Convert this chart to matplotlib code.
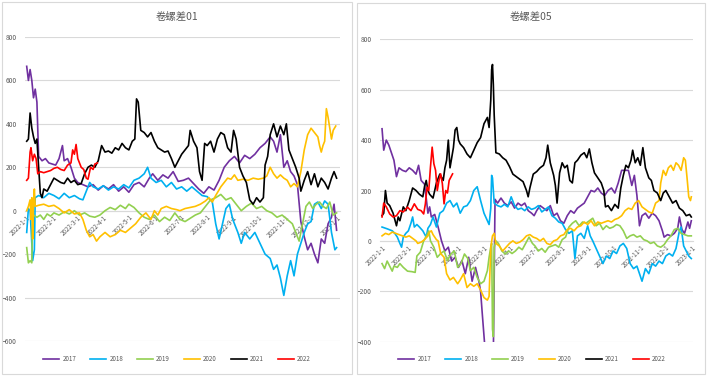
import matplotlib
matplotlib.use("Agg")
import matplotlib.pyplot as plt
from matplotlib.patches import Rectangle

plt.rcParams["font.family"] = ["Noto Sans CJK SC", "DejaVu Sans"]

YEARS = ["2017", "2018", "2019", "2020", "2021", "2022"]
COLORS = ["#7030A0", "#00B0F0", "#92D050", "#FFC000", "#000000", "#FF0000"]
MONTH_DAYS = [0, 31, 59, 90, 120, 151, 181, 212, 243, 273, 304, 334, 365]
MONTH_LABELS = [f"2022-{m}-1" for m in range(1, 13)] + ["2023-1-1"]

# ---- 卷螺差01: (day of year, value) ----
p01 = [(0, 665), (2, 600), (4, 650), (6, 600), (8, 520), (10, 560), (12, 500), (14, 250), (18, 230),
       (22, 240), (26, 220), (30, 215), (34, 210), (38, 240), (42, 300), (44, 230), (48, 240), (52, 200),
       (56, 150), (60, 130), (66, 120), (72, 110), (78, 120), (84, 95), (90, 115), (96, 100), (102, 120),
       (108, 90), (114, 110), (120, 85), (126, 120), (132, 130), (138, 110), (144, 150), (148, 170),
       (154, 140), (160, 165), (166, 150), (172, 180), (178, 135), (184, 140), (190, 150), (196, 125),
       (202, 100), (208, 80), (214, 110), (220, 95), (226, 140), (232, 200), (238, 230), (244, 250),
       (250, 220), (256, 255), (262, 240), (268, 260), (274, 290), (280, 310), (286, 340), (290, 320),
       (294, 270), (298, 350), (302, 200), (306, 230), (310, 180), (314, 160), (318, 120), (322, -50),
       (326, -120), (330, -180), (334, -150), (338, -200), (342, -240), (346, -130), (350, -150),
       (354, -60), (358, -30), (361, 30), (364, -90)]
b01 = [(0, -100), (2, 10), (4, 0), (6, -150), (7, -230), (9, -180), (10, 60), (14, 70), (20, 60), (26, 80),
       (32, 70), (38, 55), (44, 80), (50, 60), (56, 70), (62, 55), (66, 50), (70, 90), (74, 130), (78, 110),
       (84, 100), (90, 115), (96, 95), (102, 110), (108, 100), (114, 120), (120, 105), (126, 140),
       (132, 150), (138, 170), (142, 200), (146, 150), (152, 130), (158, 140), (164, 110), (170, 130),
       (176, 100), (182, 110), (188, 90), (194, 110), (200, 90), (206, 70), (212, 65), (218, 40),
       (222, -60), (226, -130), (230, -60), (234, 10), (238, 30), (242, -40), (248, -100), (252, -150),
       (256, -100), (262, -130), (268, -100), (274, -150), (280, -200), (286, -220), (290, -270),
       (294, -250), (298, -310), (302, -390), (306, -300), (310, -230), (314, -300), (318, -200),
       (322, -150), (326, -100), (330, -60), (334, -50), (338, 30), (342, 40), (346, 10), (350, 45),
       (354, 30), (358, -100), (362, -180), (364, -170)]
g01 = [(0, -170), (2, -240), (4, -230), (6, -240), (7, 0), (8, -20), (12, -30), (16, -20), (20, -40),
       (24, -15), (28, -25), (32, -10), (38, -20), (44, -5), (50, -15), (56, 0), (62, -20), (68, -10),
       (74, -25), (80, -30), (86, -20), (92, 0), (98, 15), (104, 5), (110, 25), (116, 10), (120, 30),
       (126, 15), (132, -10), (138, -30), (144, -40), (150, -20), (156, -50), (162, -30), (168, -45),
       (174, -10), (180, -40), (186, -50), (192, -35), (198, -20), (204, -10), (210, 20), (216, 50),
       (222, 60), (228, 75), (234, 50), (240, 60), (246, 30), (252, 0), (258, 20), (264, 35), (270, 10),
       (276, 20), (282, 0), (288, -10), (294, -30), (300, -20), (306, -40), (312, -60), (316, -100),
       (320, -140), (324, -60), (328, 20), (332, 40), (336, 10), (340, 30), (344, 40), (348, 20),
       (352, 10), (356, 40), (360, -20), (364, -10)]
y01 = [(0, 0), (2, 20), (4, 50), (5, -40), (6, 60), (7, -130), (8, 40), (9, 100), (10, 20), (14, 25),
       (20, 30), (26, 20), (32, 25), (38, 10), (44, -10), (50, 5), (56, -15), (62, -10), (66, -40),
       (70, -90), (74, -120), (78, -110), (82, -140), (86, -120), (92, -100), (98, -120), (104, -110),
       (110, -90), (116, -100), (122, -80), (128, -60), (134, -30), (140, -10), (146, -40), (150, 0),
       (154, -20), (158, 10), (164, 20), (170, 10), (176, 5), (180, 0), (186, 10), (192, 15), (198, 20),
       (204, 30), (210, 45), (214, 60), (218, 40), (222, 70), (228, 110), (232, 130), (236, 150),
       (240, 145), (244, 165), (248, 140), (254, 145), (260, 140), (266, 150), (272, 145), (278, 150),
       (282, 160), (286, 200), (290, 170), (294, 150), (298, 165), (302, 150), (306, 140), (310, 110),
       (314, 125), (318, 110), (322, 180), (326, 280), (330, 350), (334, 380), (338, 360), (342, 340),
       (344, 300), (346, 270), (348, 300), (350, 320), (352, 470), (354, 430), (356, 380), (358, 330),
       (360, 370), (363, 390)]
k01 = [(0, 320), (2, 330), (4, 450), (6, 380), (8, 340), (10, 310), (12, 330), (14, 200), (16, 80),
       (18, 60), (20, 100), (24, 90), (28, 120), (32, 150), (36, 140), (40, 130), (44, 125), (48, 150),
       (52, 130), (56, 140), (60, 120), (64, 125), (68, 170), (72, 200), (76, 210), (80, 200), (84, 230),
       (88, 300), (92, 270), (96, 275), (100, 265), (104, 290), (108, 280), (112, 310), (116, 290),
       (120, 280), (124, 320), (127, 330), (129, 515), (131, 500), (134, 370), (138, 360), (142, 340),
       (146, 360), (150, 320), (154, 290), (158, 280), (162, 270), (166, 275), (170, 240), (174, 200),
       (178, 230), (182, 260), (186, 280), (190, 300), (192, 370), (196, 320), (200, 290), (203, 180),
       (206, 140), (209, 310), (212, 300), (216, 320), (220, 270), (224, 330), (228, 360), (232, 350),
       (236, 290), (240, 270), (243, 370), (246, 330), (250, 200), (254, 160), (258, 130), (262, 50),
       (266, 30), (270, 60), (274, 40), (278, 60), (280, 210), (283, 250), (286, 350), (290, 400),
       (294, 340), (298, 390), (302, 350), (305, 400), (308, 280), (312, 240), (316, 200), (320, 150),
       (322, 90), (326, 140), (330, 180), (334, 120), (338, 170), (342, 110), (346, 150), (350, 130),
       (354, 100), (358, 150), (361, 180), (364, 150)]
r01 = [(0, 140), (2, 150), (4, 270), (5, 290), (7, 230), (9, 260), (11, 240), (13, 170), (16, 180),
       (20, 175), (24, 180), (28, 185), (32, 195), (36, 200), (40, 190), (44, 185), (48, 210), (52, 220),
       (54, 280), (56, 260), (58, 305), (60, 240), (62, 220), (64, 200), (67, 190), (70, 150), (72, 145),
       (75, 200), (78, 190), (80, 215), (83, 220)]

# ---- 卷螺差05 ----
p05 = [(0, 445), (2, 360), (5, 400), (8, 380), (11, 350), (14, 320), (17, 255), (20, 290), (24, 280),
       (28, 275), (32, 290), (36, 280), (40, 265), (43, 300), (46, 240), (50, 225), (52, 170), (54, 110),
       (56, 135), (58, 95), (62, 105), (66, 55), (70, 0), (74, -40), (78, -25), (82, -80), (86, -65),
       (90, -105), (94, -78), (98, -130), (102, -65), (106, -160), (110, -105), (114, -160), (116, -200),
       (118, -290), (121, -420), (124, -500), (128, -500), (131, -450), (133, 165), (136, 150), (140, 170),
       (144, 150), (148, 140), (152, 155), (156, 130), (160, 150), (164, 140), (168, 150), (172, 120),
       (176, 110), (179, 100), (182, 120), (186, 140), (190, 130), (194, 120), (198, 140), (202, 100),
       (206, 110), (210, 80), (214, 70), (218, 100), (222, 120), (226, 110), (230, 130), (234, 140),
       (238, 150), (242, 175), (246, 200), (250, 195), (254, 210), (258, 190), (262, 180), (266, 200),
       (270, 210), (274, 190), (278, 230), (282, 280), (286, 280), (290, 280), (294, 220), (297, 260),
       (300, 180), (303, 60), (306, 100), (310, 110), (314, 90), (318, 110), (322, 100), (326, 80),
       (330, 40), (332, 15), (336, 25), (340, 20), (344, 30), (348, 50), (350, 95), (353, 45), (356, 30),
       (360, 75), (362, 50), (364, 80)]
b05 = [(0, 55), (6, 48), (12, 40), (15, 30), (18, 15), (21, -10), (23, -25), (25, 15), (28, 30), (31, 40),
       (34, 70), (36, 95), (38, 55), (41, 65), (44, 55), (48, 40), (52, 15), (54, 50), (57, 65), (60, 95),
       (64, 55), (68, 110), (72, 120), (76, 150), (80, 160), (84, 135), (88, 150), (92, 110), (96, 135),
       (100, 140), (104, 160), (108, 200), (112, 215), (116, 160), (120, 110), (124, 80), (126, 65),
       (128, 130), (129, 260), (130, 250), (132, 150), (136, 140), (140, 135), (144, 145), (148, 135),
       (152, 175), (156, 140), (160, 125), (164, 130), (168, 120), (172, 135), (176, 125), (180, 130),
       (184, 140), (188, 115), (192, 125), (196, 135), (200, 100), (204, 90), (208, 75), (212, 70),
       (216, 45), (220, 30), (224, 40), (227, -70), (230, 20), (234, 30), (238, 10), (242, 60), (245, 20),
       (248, 0), (252, -30), (256, -60), (260, -90), (264, -60), (268, -70), (272, -40), (276, -50),
       (280, -20), (284, -10), (288, -30), (292, -90), (296, -110), (300, -100), (303, -130), (306, -160),
       (310, -110), (314, -130), (318, -90), (322, -100), (326, -80), (330, -90), (334, -60), (338, -50),
       (342, -60), (346, -30), (350, 40), (352, 55), (355, -20), (358, -40), (361, -60), (364, -70)]
g05 = [(0, -90), (3, -110), (6, -80), (9, -100), (12, -120), (14, -100), (18, -105), (21, -90), (25, -105),
       (30, -120), (35, -122), (39, -125), (41, -60), (45, -45), (49, 0), (53, 25), (55, 40), (57, 0),
       (61, -25), (65, -65), (69, -50), (73, -40), (77, -78), (81, -52), (85, -40), (89, -105), (93, -90),
       (97, -52), (101, -70), (104, -118), (108, -105), (112, -145), (116, -170), (120, -160), (124, -118),
       (126, -65), (128, -25), (129, -10), (130, -350), (131, -380), (132, -25), (134, 0), (137, -10),
       (141, -40), (145, -52), (149, -40), (153, -50), (157, -40), (161, -25), (165, -35), (169, -10),
       (173, 15), (177, -10), (180, -20), (184, -40), (188, -30), (192, -45), (196, -25), (200, -20),
       (204, -15), (208, -25), (212, 5), (216, 15), (220, 55), (224, 70), (228, 80), (232, 60), (236, 75),
       (240, 70), (244, 80), (248, 90), (252, 60), (256, 70), (260, 45), (264, 60), (268, 50), (272, 55),
       (276, 65), (280, 60), (284, 40), (288, 10), (292, 20), (296, 25), (300, 15), (304, 20), (308, 5),
       (312, 0), (316, -10), (320, -5), (324, -20), (328, -25), (332, -15), (336, 5), (340, 20), (344, 45),
       (348, 50), (352, 30), (356, 25), (360, 20), (364, 20)]
y05 = [(0, 20), (4, 30), (8, 25), (12, 35), (16, 30), (20, 25), (24, 20), (28, 15), (32, 20), (36, 10),
       (40, 0), (42, -10), (46, -5), (50, 5), (54, 20), (56, 35), (58, 40), (60, 25), (64, 5), (66, 0),
       (69, -50), (73, -65), (76, -130), (80, -155), (84, -145), (89, -170), (92, -155), (96, -130),
       (100, -185), (104, -170), (108, -180), (112, -170), (116, -195), (120, -225), (124, -235),
       (126, -220), (128, -25), (130, 20), (132, 30), (134, -10), (138, -20), (142, -40), (146, -25),
       (150, -10), (154, 0), (158, -10), (162, -5), (166, 5), (170, 20), (174, 25), (178, 15), (182, 10),
       (186, 0), (190, 10), (194, -10), (198, -15), (202, 0), (206, 5), (210, 20), (214, 25), (218, 45),
       (222, 50), (226, 40), (230, 55), (234, 60), (238, 75), (242, 65), (246, 80), (250, 60), (254, 75),
       (258, 70), (262, 75), (266, 80), (270, 75), (274, 85), (278, 90), (282, 100), (286, 120), (290, 130),
       (294, 125), (298, 150), (302, 160), (306, 135), (310, 125), (314, 115), (318, 110), (322, 150),
       (326, 160), (328, 230), (331, 280), (334, 260), (337, 290), (340, 300), (343, 280), (346, 310),
       (349, 300), (352, 280), (355, 330), (357, 320), (359, 250), (361, 175), (363, 160), (364, 175)]
k05 = [(0, 100), (2, 110), (4, 200), (6, 150), (9, 140), (13, 110), (17, 60), (19, 95), (21, 80), (25, 135),
       (28, 120), (32, 160), (36, 210), (40, 200), (44, 185), (48, 175), (50, 215), (52, 240), (54, 200),
       (56, 185), (60, 170), (64, 230), (68, 265), (72, 240), (74, 290), (76, 320), (78, 400), (80, 290),
       (82, 330), (84, 370), (86, 440), (88, 450), (90, 400), (92, 385), (96, 370), (100, 345), (104, 330),
       (108, 360), (112, 390), (116, 410), (120, 465), (124, 490), (126, 450), (128, 560), (129, 680),
       (130, 700), (131, 620), (132, 500), (134, 350), (138, 345), (142, 330), (146, 320), (150, 295),
       (154, 265), (158, 255), (162, 245), (166, 235), (170, 200), (172, 175), (174, 210), (178, 265),
       (182, 275), (186, 290), (190, 300), (193, 330), (195, 380), (198, 310), (202, 260), (204, 220),
       (206, 150), (209, 270), (212, 310), (215, 290), (218, 300), (221, 240), (224, 230), (227, 310),
       (230, 320), (234, 340), (238, 350), (241, 330), (244, 365), (247, 310), (250, 270), (254, 250),
       (258, 230), (261, 200), (263, 135), (266, 140), (270, 120), (274, 145), (278, 130), (281, 210),
       (284, 260), (287, 300), (290, 290), (293, 320), (295, 360), (298, 310), (301, 330), (304, 300),
       (307, 370), (310, 290), (314, 250), (317, 240), (320, 200), (324, 190), (328, 160), (331, 190),
       (334, 200), (338, 175), (342, 150), (346, 160), (350, 130), (354, 120), (358, 100), (362, 105),
       (364, 95)]
r05 = [(0, 95), (2, 150), (5, 135), (9, 107), (13, 95), (17, 100), (21, 120), (25, 115), (30, 134),
       (34, 120), (38, 147), (42, 125), (46, 120), (49, 107), (51, 147), (53, 213), (55, 200), (57, 293),
       (59, 372), (61, 306), (63, 280), (65, 200), (67, 240), (69, 266), (71, 227), (73, 147), (75, 200),
       (77, 190), (79, 240), (81, 253), (83, 266)]

W, H = 708, 378
fig = plt.figure(figsize=(W / 100, H / 100), dpi=100)
GRID = "#D9D9D9"
TXT = "#595959"


def px(x0, y0, x1, y1):
    # pixel box -> figure fraction [left, bottom, width, height]
    return [x0 / W, 1 - y1 / H, (x1 - x0) / W, (y1 - y0) / H]


def panel(box, axbox, title, series, ylim, xlim, title_x, leg_x):
    fig.patches.append(Rectangle((box[0], box[1]), box[2], box[3], transform=fig.transFigure,
                                 fill=False, edgecolor=GRID, lw=0.8))
    ax = fig.add_axes(axbox)
    lines = []
    for pts, c, yr in zip(series, COLORS, YEARS):
        xs, ys = zip(*pts)
        ln, = ax.plot(xs, ys, color=c, lw=1.2, label=yr, zorder=3)
        lines.append(ln)
    ax.set_ylim(*ylim)
    ax.set_xlim(*xlim)
    ax.set_yticks(range(ylim[0], ylim[1] + 1, 200))
    ax.yaxis.grid(True, color=GRID, lw=0.8)
    ax.set_axisbelow(True)
    for s in ["top", "right", "left"]:
        ax.spines[s].set_visible(False)
    ax.spines["bottom"].set_position(("data", 0))
    ax.spines["bottom"].set_color(GRID)
    ax.spines["bottom"].set_linewidth(0.8)
    ax.set_xticks(MONTH_DAYS)
    ax.set_xticklabels(MONTH_LABELS, rotation=45, ha="right", va="top",
                       rotation_mode="anchor", fontsize=4.5, color=TXT)
    ax.tick_params(axis="both", length=0, pad=2)
    ax.tick_params(axis="y", labelsize=4.8, labelcolor=TXT, pad=6)
    fig.text(title_x / W, 1 - 17 / H, title, ha="center", va="center", fontsize=7.5, color=TXT)
    fig.legend(handles=lines, loc="center", bbox_to_anchor=(leg_x / W, 1 - 359 / H), ncol=6,
               frameon=False, fontsize=4.5, handlelength=2.6, columnspacing=2.2, handletextpad=0.5,
               labelcolor=TXT)
    return ax


panel([2 / W, 1 - 374 / H, 350 / W, 372 / H], px(25, 37, 340, 341), "卷螺差01",
      [p01, b01, g01, y01, k01, r01], (-600, 800), (-2, 368), 177, 177)
panel([357 / W, 1 - 374 / H, 348 / W, 371 / H], px(380, 39.3, 693, 341.7), "卷螺差05",
      [p05, b05, g05, y05, k05, r05], (-400, 800), (-2.4, 366), 531, 532)

fig.savefig("out.png", dpi=100)
